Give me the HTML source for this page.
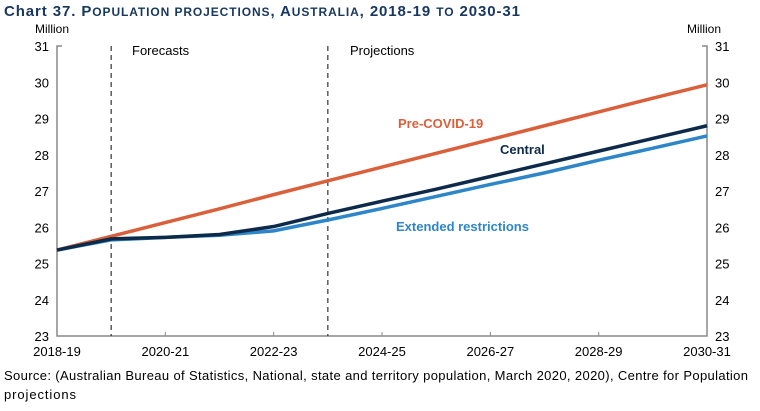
<!DOCTYPE html>
<html><head><meta charset="utf-8"><style>
body{margin:0;background:#fff;width:760px;height:406px;overflow:hidden;font-family:"Liberation Sans",sans-serif}
</style></head><body>
<svg width="760" height="406" xmlns="http://www.w3.org/2000/svg">
<text x="4" y="16" font-size="15" font-weight="bold" fill="#17375e" textLength="516" lengthAdjust="spacing">Chart 37.  P<tspan font-size="12">OPULATION PROJECTIONS</tspan>, A<tspan font-size="12">USTRALIA</tspan>, 2018-19 <tspan font-size="12">TO</tspan> 2030-31</text>
<text x="35" y="33" font-size="12" fill="#000">Million</text>
<text x="687" y="33" font-size="12" fill="#000">Million</text>
<g id="axes"></g>
<g id="marks"></g>
<text x="132" y="55" font-size="13">Forecasts</text>
<text x="350" y="55" font-size="13">Projections</text>
<text x="398" y="128" font-size="13" font-weight="bold" fill="#d9603b">Pre-COVID-19</text>
<text x="500" y="154" font-size="13" font-weight="bold" fill="#0d2a4a">Central</text>
<text x="396" y="231" font-size="13" font-weight="bold" fill="#2e86c8">Extended restrictions</text>
<text x="4" y="380" font-size="13" fill="#000" textLength="744" lengthAdjust="spacing">Source: (Australian Bureau of Statistics, National, state and territory population, March 2020, 2020), Centre for Population</text>
<text x="4" y="399" font-size="13" fill="#000" textLength="72" lengthAdjust="spacing">projections</text>
</svg>
<script>
const years=['2018-19','2019-20','2020-21','2021-22','2022-23','2023-24','2024-25','2025-26','2026-27','2027-28','2028-29','2029-30','2030-31'];
const preCovid=[25.37,25.75,26.13,26.51,26.9,27.28,27.66,28.04,28.42,28.8,29.18,29.56,29.93];
const central=[25.37,25.68,25.72,25.8,26.02,26.38,26.72,27.05,27.4,27.75,28.1,28.45,28.8];
const extended=[25.37,25.65,25.72,25.78,25.9,26.2,26.52,26.85,27.18,27.5,27.85,28.18,28.52];
const yTicks=[23,24,25,26,27,28,29,30,31];
const xLabelIdx=[0,2,4,6,8,10,12];
const dividerIdx=[1,5];
const NS='http://www.w3.org/2000/svg';
const X0=57,X1=707,Y0=336,Y1=46;
const x=i=>X0+(X1-X0)*i/(years.length-1);
const y=v=>Y0-(Y0-Y1)*(v-23)/8;
function mk(t,a,p){const e=document.createElementNS(NS,t);for(const k in a)e.setAttribute(k,a[k]);p.appendChild(e);return e;}
const ax=document.getElementById('axes'),mg=document.getElementById('marks');
let e;
e=mk('path',{d:`M${X0+5},${Y1}H${X0}V${Y0}H${X1}V${Y1}H${X1-5}`,fill:'none',stroke:'#888','stroke-width':1.5},ax);

yTicks.forEach(v=>{
 e=mk('text',{x:X0-8,y:y(v)+5,'font-size':13,'text-anchor':'end'},ax);e.textContent=v;
 
 e=mk('text',{x:X1+8,y:y(v)+5,'font-size':13},ax);e.textContent=v;
 
});
xLabelIdx.forEach(i=>{
 if(i>0&&i<12){e=mk('line',{x1:x(i),x2:x(i),y1:Y0,y2:Y0-4,stroke:'#888'},ax);}
 e=mk('text',{x:x(i),y:Y0+20,'font-size':13,'text-anchor':'middle'},ax);e.textContent=years[i];
 
});
dividerIdx.forEach(i=>{
 e=mk('line',{x1:x(i),x2:x(i),y1:Y1,y2:Y0,stroke:'#333','stroke-dasharray':'5,4','stroke-width':1.2},ax);
 
});
[[preCovid,'#d9603b','pre-covid-line'],[extended,'#2e86c8','extended-line'],[central,'#0d2a4a','central-line']].forEach(([d,c,n])=>{
 e=mk('polyline',{points:d.map((v,i)=>x(i)+','+y(v)).join(' '),fill:'none',stroke:c,'stroke-width':3.5},mg);
 
});
</script>
</body></html>
